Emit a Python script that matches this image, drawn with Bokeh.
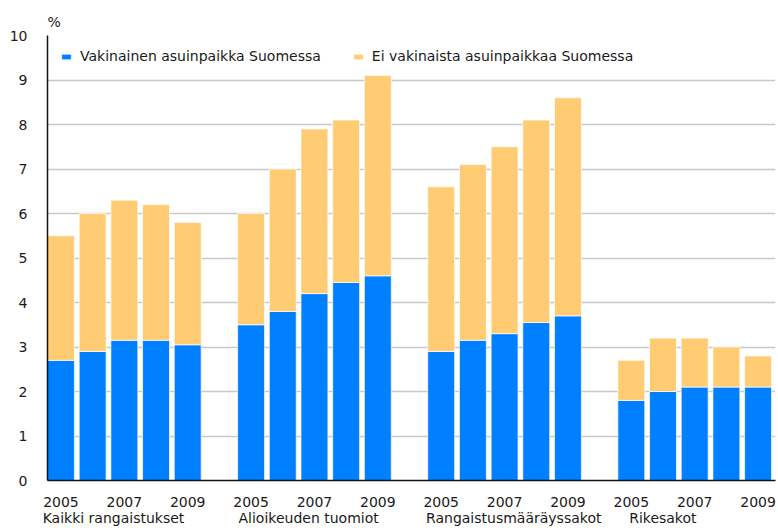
from bokeh.plotting import figure
from bokeh.models import (ColumnDataSource, FixedTicker, Legend, LegendItem, Range1d,
                          LinearAxis, Title)
from bokeh.embed import file_html
from bokeh.resources import INLINE

years = ["2005", "2006", "2007", "2008", "2009"]
groups = ["Kaikki rangaistukset", "Alioikeuden tuomiot", "Rangaistusmääräyssakot", "Rikesakot"]
series_names = ["Vakinainen asuinpaikka Suomessa", "Ei vakinaista asuinpaikkaa Suomessa"]

resident = [
    2.7, 2.9, 3.15, 3.15, 3.05,
    3.5, 3.8, 4.2, 4.45, 4.6,
    2.9, 3.15, 3.3, 3.55, 3.7,
    1.8, 2.0, 2.1, 2.1, 2.1,
]
nonresident = [
    2.8, 3.1, 3.15, 3.05, 2.75,
    2.5, 3.2, 3.7, 3.65, 4.5,
    3.7, 3.95, 4.2, 4.55, 4.9,
    0.9, 1.2, 1.1, 0.9, 0.7,
]
shown_years = ["2005", "2007", "2009"]
y_ticks = [0, 1, 2, 3, 4, 5, 6, 7, 8, 9, 10]

BLUE = "#0080FF"
ORANGE = "#FFCC73"
FONT = "DejaVu Sans"
FS = "14px"
TXT = "#1a1a1a"

slot = len(years) + 1
xs = [g * slot + i for g in range(len(groups)) for i in range(len(years))]
src = ColumnDataSource(dict(x=xs, res=resident, non=nonresident))

bw = 0.85
x0, x1 = -bw / 2, (len(groups) * slot - 2) + 0.55
W, H = 778, 528
ML, MR, MT, MB = 47, 3, 35, 48
px_per_unit = (W - ML - MR) / (x1 - x0)

p = figure(width=W, height=H, output_backend="svg", toolbar_location=None,
           x_range=Range1d(x0, x1), y_range=Range1d(0, 10),
           min_border_left=ML, min_border_right=MR, min_border_top=MT, min_border_bottom=MB)
p.outline_line_color = None
p.background_fill_color = "white"
p.border_fill_color = "white"

# unit label "%"
p.add_layout(Title(text="%", align="left", offset=0, standoff=12, text_font=FONT,
                   text_font_size=FS, text_font_style="normal", text_color=TXT), "above")

rs = p.vbar_stack(["res", "non"], x="x", width=bw, source=src,
                  fill_color=[BLUE, ORANGE], line_color="white", line_alpha=0.7, line_width=1)

# y axis
p.yaxis.ticker = FixedTicker(ticks=y_ticks)
p.yaxis.major_tick_out = 0
p.yaxis.major_tick_in = 0
p.yaxis.minor_tick_line_color = None
p.yaxis.axis_line_color = "#111111"
p.yaxis.axis_line_width = 1.5
p.yaxis.major_label_standoff = 20
p.yaxis.major_label_text_font = FONT
p.yaxis.major_label_text_font_size = FS
p.yaxis.major_label_text_color = TXT

# x axis with year labels
tick_pos = []
overrides = {}
for g in range(len(groups)):
    for i, y in enumerate(years):
        if y in shown_years:
            pos = g * slot + i
            tick_pos.append(pos)
            overrides[pos] = y
p.xaxis.ticker = FixedTicker(ticks=tick_pos)
p.xaxis.major_label_overrides = overrides
p.xaxis.major_tick_out = 0
p.xaxis.major_tick_in = 0
p.xaxis.minor_tick_line_color = None
p.xaxis.axis_line_color = "#111111"
p.xaxis.axis_line_width = 1.5
p.xaxis.major_label_standoff = 16
p.xaxis.major_label_text_font = FONT
p.xaxis.major_label_text_font_size = FS
p.xaxis.major_label_text_color = TXT

# second axis with group labels (placed so they sit where the reference puts them)
center_offsets_px = [66, 71, 86, 45]
gpos = []
gover = {}
for g, name in enumerate(groups):
    pos = g * slot - bw / 2 + center_offsets_px[g] / px_per_unit
    gpos.append(pos)
    gover[pos] = name
gax = LinearAxis(ticker=FixedTicker(ticks=gpos), major_label_overrides=gover,
                 axis_line_color=None, major_tick_line_color=None, minor_tick_line_color=None,
                 major_tick_out=0, major_tick_in=0, major_label_standoff=0,
                 major_label_text_font=FONT,
                 major_label_text_font_size=FS, major_label_text_color=TXT)
p.add_layout(gax, "below")

p.xgrid.visible = False
p.ygrid.grid_line_color = "#c8c8c8"
p.ygrid.grid_line_width = 1.5

legend = Legend(items=[LegendItem(label=series_names[0], renderers=[rs[0]]),
                       LegendItem(label=series_names[1], renderers=[rs[1]])],
                orientation="horizontal", location="top_left", margin=13, padding=0,
                spacing=31, glyph_width=12, glyph_height=7, label_standoff=8,
                label_height=14, label_text_font=FONT, label_text_font_size=FS,
                label_text_color=TXT, background_fill_alpha=0, border_line_color=None)
p.add_layout(legend)

open("out.html", "w").write(file_html(p, INLINE))
